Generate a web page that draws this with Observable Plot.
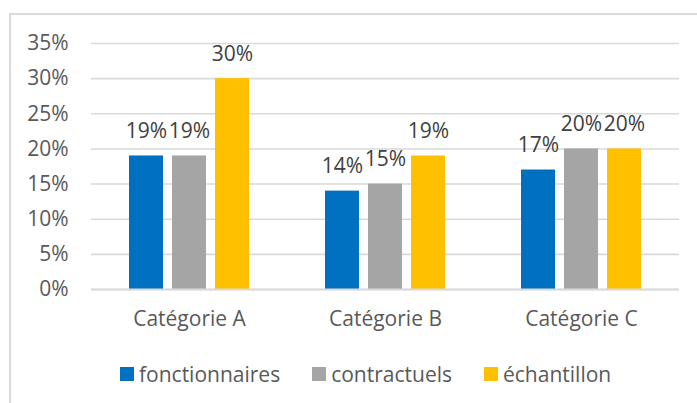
<!DOCTYPE html>
<html><head><meta charset="utf-8">
<script src="https://cdn.jsdelivr.net/npm/d3@7"></script>
<script src="https://cdn.jsdelivr.net/npm/@observablehq/plot@0.6"></script>
<style>
html,body{margin:0;padding:0;background:#fff;}
#wrap{position:relative;width:697px;height:403px;overflow:hidden;font-family:"Open Sans",sans-serif;}
#frame{position:absolute;left:9px;top:13px;width:740px;height:440px;border:2px solid #d9d9d9;box-sizing:border-box;}
#chart{position:absolute;left:0;top:0;}
#legend{position:absolute;left:120px;top:362px;display:flex;align-items:center;font-size:21px;line-height:24px;color:#595959;}
.item{display:flex;align-items:center;margin-right:32px;}
.sw{width:14px;height:14px;margin-right:5px;}
</style></head>
<body>
<div id="wrap"><div id="frame"></div><div id="chart"></div><div id="legend"></div></div>
<script>
const categories = ["Catégorie A", "Catégorie B", "Catégorie C"];
const series = ["fonctionnaires", "contractuels", "échantillon"];
const fonctionnaires = [19, 14, 17];
const contractuels = [19, 15, 20];
const echantillon = [30, 19, 20];
const yTicks = [0, 5, 10, 15, 20, 25, 30, 35];
const colors = ["#0070C0", "#A5A5A5", "#FFC000"];

const seriesValues = [fonctionnaires, contractuels, echantillon];
const data = categories.flatMap((c, i) => series.map((s, j) => ({cat: c, serie: s, value: seriesValues[j][i]})));

const chart = Plot.plot({
  width: 697, height: 340,
  marginLeft: 91, marginRight: 18, marginTop: 43, marginBottom: 51,
  style: {fontFamily: "Open Sans", fontSize: "21px", color: "#595959", background: "transparent"},
  fx: {domain: categories, padding: 0, label: null},
  x: {domain: series, paddingInner: 0.215, paddingOuter: 0.869, label: null, axis: null},
  y: {domain: [0, 35], label: null},
  color: {domain: series, range: colors},
  marks: [
    Plot.gridY(yTicks, {stroke: "#d9d9d9", strokeOpacity: 1, strokeWidth: 1.6}),
    Plot.axisY(yTicks, {tickSize: 0, tickPadding: 23, tickFormat: d => d + "%", fill: "#595959", label: null}),
    Plot.axisFx({anchor: "bottom", tickSize: 0, tickPadding: 22, fill: "#595959", label: null}),
    Plot.barY(data, {fx: "cat", x: "serie", y: "value", fill: "serie"}),
    Plot.ruleY([0], {stroke: "#d9d9d9", strokeWidth: 2}),
    Plot.text(data, {fx: "cat", x: "serie", y: "value", text: d => d.value + "%", lineAnchor: "bottom", dy: -18, fill: "#404040"})
  ]
});
document.getElementById("chart").appendChild(chart);

const legend = document.getElementById("legend");
series.forEach((s, j) => {
  const it = document.createElement("div"); it.className = "item";
  const sw = document.createElement("div"); sw.className = "sw"; sw.style.background = colors[j];
  const tx = document.createElement("span"); tx.textContent = s;
  it.appendChild(sw); it.appendChild(tx); legend.appendChild(it);
});
</script>
</body></html>
